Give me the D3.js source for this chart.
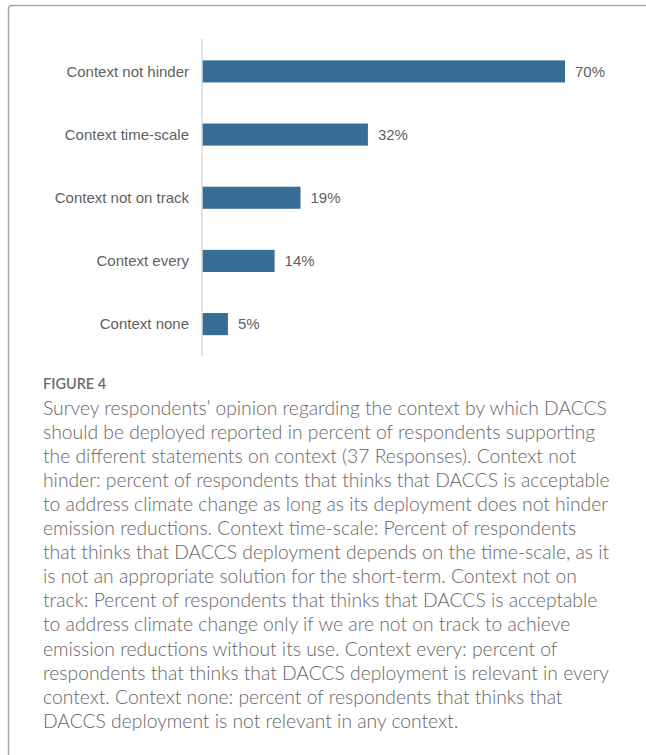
<!DOCTYPE html>
<html><head><meta charset="utf-8">
<script src="https://cdn.jsdelivr.net/npm/d3@7"></script>
<style>
html,body{margin:0;padding:0;background:#fff;}
svg{display:block;}
</style></head>
<body>
<svg id="chart" width="646" height="755"></svg>
<script>
const categories = ["Context not hinder","Context time-scale","Context not on track","Context every","Context none"];
const values = [70,32,19,14,5];
const figureLabel = "FIGURE 4";
const captionLines = [
"Survey respondents\u2019 opinion regarding the context by which DACCS",
"should be deployed reported in percent of respondents supporting",
"the different statements on context (37 Responses). Context not",
"hinder: percent of respondents that thinks that DACCS is acceptable",
"to address climate change as long as its deployment does not hinder",
"emission reductions. Context time-scale: Percent of respondents",
"that thinks that DACCS deployment depends on the time-scale, as it",
"is not an appropriate solution for the short-term. Context not on",
"track: Percent of respondents that thinks that DACCS is acceptable",
"to address climate change only if we are not on track to achieve",
"emission reductions without its use. Context every: percent of",
"respondents that thinks that DACCS deployment is relevant in every",
"context. Context none: percent of respondents that thinks that",
"DACCS deployment is not relevant in any context."
];

const svg = d3.select("#chart");
svg.append("path")
  .attr("d","M8.5,755 L8.5,9 Q8.5,5.5 12,5.5 L646,5.5")
  .attr("fill","none").attr("stroke","#a6a6a6").attr("stroke-width",1.5);

const x = d3.scaleLinear().domain([0,70]).range([202,565]);
const y = d3.scaleBand().domain(categories).range([39.5,356]).paddingInner(0.65).paddingOuter(0.33);

const g = svg.append("g");
g.selectAll("rect.bar").data(values).join("rect")
  .attr("class","bar")
  .attr("x",x(0))
  .attr("y",(d,i)=>y(categories[i]))
  .attr("width",d=>x(d)-x(0))
  .attr("height",y.bandwidth())
  .attr("fill","#386d96");

g.append("line").attr("x1",x(0)).attr("x2",x(0)).attr("y1",39).attr("y2",356)
  .attr("stroke","#d9d9d9").attr("stroke-width",1.5);

g.selectAll("text.cat").data(categories).join("text")
  .attr("class","cat")
  .attr("x",189)
  .attr("y",d=>y(d)+y.bandwidth()/2)
  .attr("dy","0.35em")
  .attr("text-anchor","end")
  .style("font-family","'Liberation Sans', Arial, sans-serif")
  .attr("font-size",15)
  .attr("fill","#5f5f5f")
  .text(d=>d);

g.selectAll("text.val").data(values).join("text")
  .attr("class","val")
  .attr("x",d=>x(d)+10)
  .attr("y",(d,i)=>y(categories[i])+y.bandwidth()/2)
  .attr("dy","0.35em")
  .style("font-family","'Liberation Sans', Arial, sans-serif")
  .attr("font-size",15)
  .attr("fill","#5f5f5f")
  .text(d=>d+"%");

svg.append("text").attr("x",43).attr("y",388.5)
  .style("font-family","Lato, 'Open Sans', sans-serif")
  .attr("font-size",14.5).attr("font-weight",600)
  .attr("fill","#6b6b6b")
  .text(figureLabel);

const cap = svg.append("text")
  .style("font-family","Lato, 'Open Sans', sans-serif")
  .attr("font-size",19.3)
  .attr("font-weight",300)
  .attr("fill","#666666");
captionLines.forEach((t,i)=>{
  cap.append("tspan").attr("x",43).attr("y",414.5+i*24.1).text(t);
});
</script>
</body></html>
